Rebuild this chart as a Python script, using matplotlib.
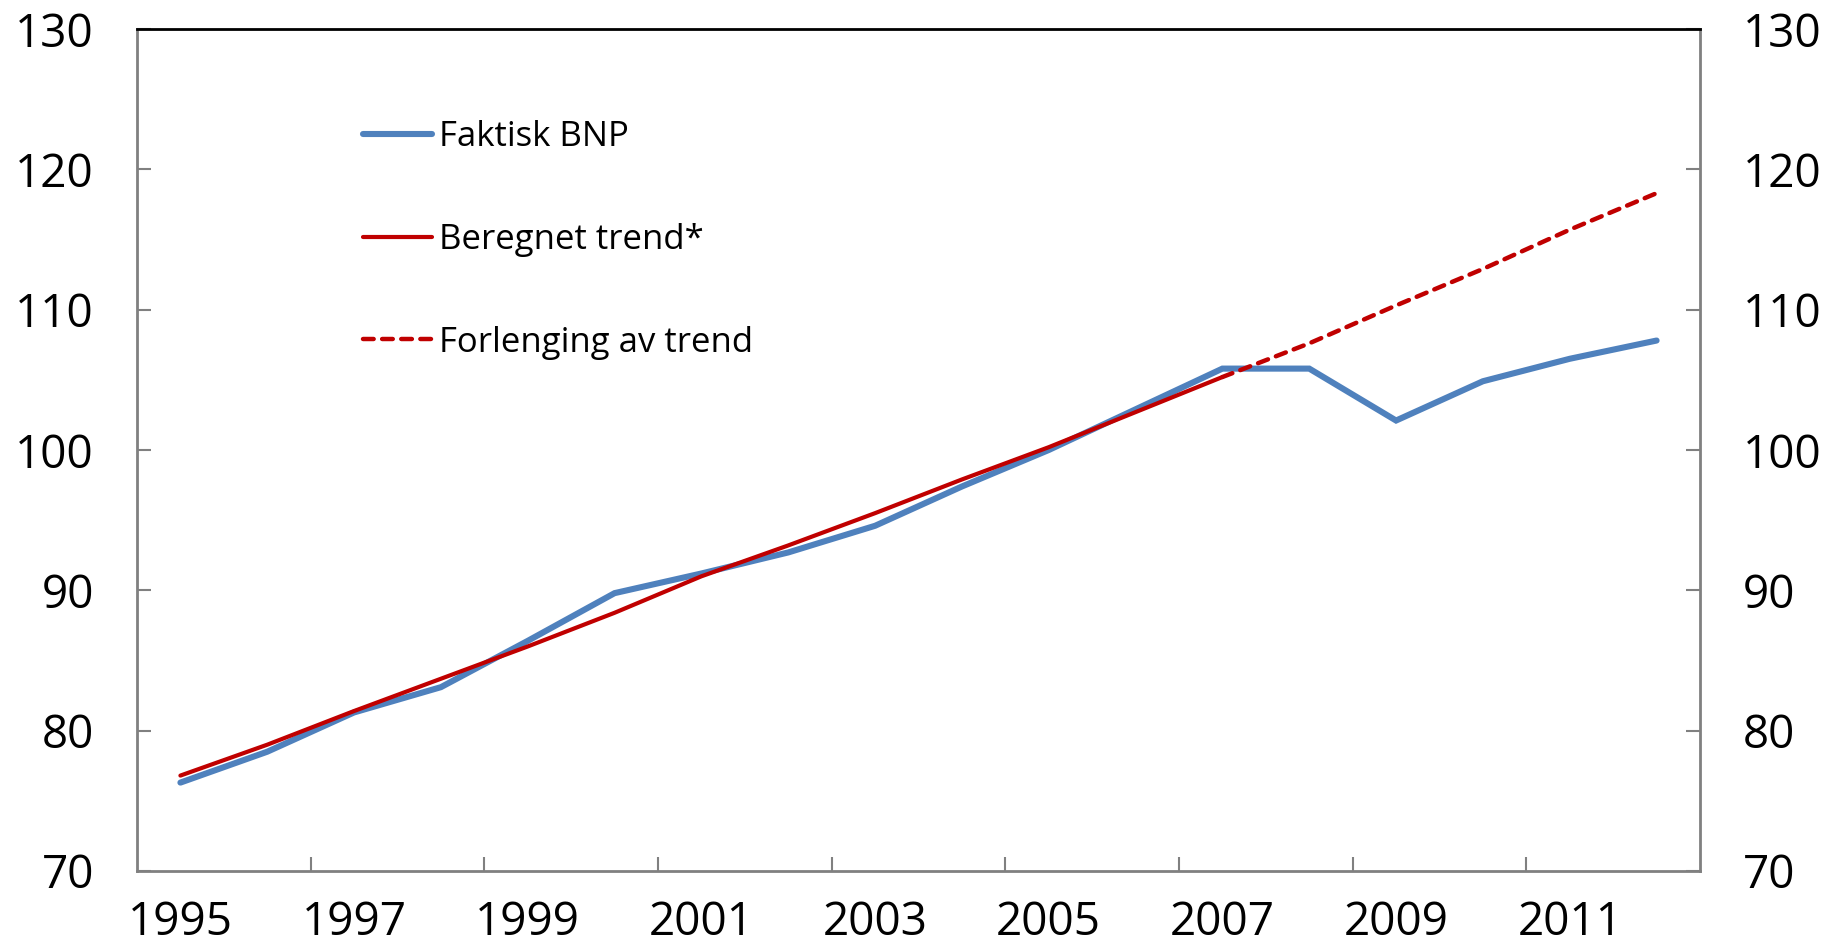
import numpy as np
import matplotlib
matplotlib.use("Agg")
import matplotlib.pyplot as plt

years = [1995, 1996, 1997, 1998, 1999, 2000, 2001, 2002, 2003, 2004,
         2005, 2006, 2007, 2008, 2009, 2010, 2011, 2012]
faktisk_bnp = [76.3, 78.5, 81.3, 83.1, 86.4, 89.8, 91.2, 92.7, 94.6, 97.4,
               100.0, 102.9, 105.8, 105.8, 102.1, 104.9, 106.5, 107.8]
beregnet_trend = [76.8, 79.0, 81.4, 83.7, 86.0, 88.4, 91.0, 93.2, 95.5, 97.9,
                  100.2, 102.7, 105.2, None, None, None, None, None]
forlenging_trend = [None] * 12 + [105.2, 107.6, 110.3, 112.9, 115.7, 118.3]
ytick_values = [70, 80, 90, 100, 110, 120, 130]
labels = ["Faktisk BNP", "Beregnet trend*", "Forlenging av trend"]

def arr(v):
    return np.array([np.nan if x is None else x for x in v], dtype=float)

BLUE = "#4F81BD"
RED = "#C00000"
GRAY = "#808080"

plt.rcParams['font.family'] = ['Open Sans', 'DejaVu Sans']

fig = plt.figure(figsize=(18.31, 9.5), dpi=100)
ax = fig.add_axes([137/1831, 1-871/950, (1700-137)/1831, (871-29)/950])

x = np.arange(len(years))
ax.plot(x, arr(faktisk_bnp), color=BLUE, lw=4.4, solid_capstyle='round',
        solid_joinstyle='miter', label=labels[0], zorder=2)
ax.plot(x, arr(beregnet_trend), color=RED, lw=3.0, solid_capstyle='round',
        label=labels[1], zorder=3)
ax.plot(x, arr(forlenging_trend), color=RED, lw=3.2, dashes=(2.4, 1.9),
        dash_capstyle='round', label=labels[2], zorder=3)

ax.set_xlim(-0.5, len(years) - 0.5)
ax.set_ylim(70, 130)

# y axis both sides
ax.set_yticks(ytick_values)
ax.tick_params(axis='y', which='major', direction='in', length=10, width=1.5,
               color=GRAY, labelsize=33, pad=31, left=True, right=True,
               labelleft=True, labelright=True)

# x axis: boundary ticks (major, no labels) + labels (minor, no ticks)
ax.set_xticks(np.arange(1.5, len(years) - 2, 2))
ax.set_xticklabels([])
ax.set_xticks(x[::2], minor=True)
ax.set_xticklabels([str(y) for y in years[::2]], minor=True)
ax.tick_params(axis='x', which='major', direction='in', length=10, width=1.5, color=GRAY)
ax.tick_params(axis='x', which='minor', length=0, labelsize=33, pad=21)

for side in ['left', 'right', 'bottom']:
    ax.spines[side].set_color(GRAY)
    ax.spines[side].set_linewidth(2)
ax.spines['top'].set_color('#000000')
ax.spines['top'].set_linewidth(2)

leg = ax.legend(loc='upper left', bbox_to_anchor=((363-137)/1563, (871-120)/842),
                frameon=False, fontsize=25, handlelength=2.0, handletextpad=0.2,
                labelspacing=1.98, borderpad=0, borderaxespad=0)

fig.savefig("out.png", dpi=100)
